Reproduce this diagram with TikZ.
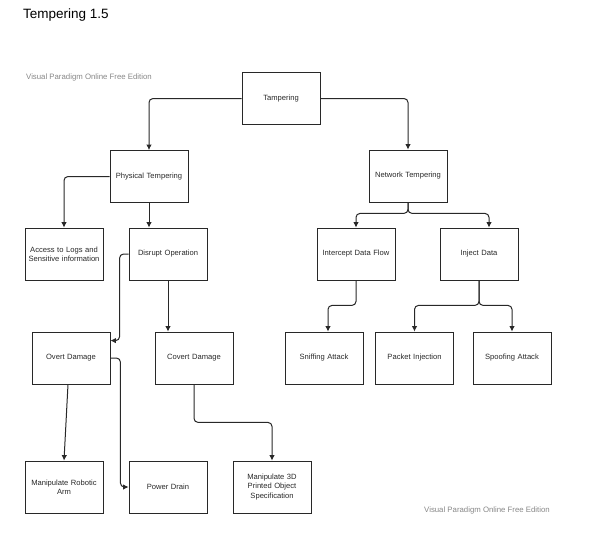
\documentclass[tikz,border=0pt]{standalone}
\usepackage{fontspec}
\setmainfont{Liberation Sans}
\usetikzlibrary{arrows.meta}
\usetikzlibrary{positioning}
\definecolor{line_gray}{RGB}{40,40,40}
\definecolor{mark_gray}{RGB}{135,135,135}
\tikzstyle{step_box} = [
    rectangle,
    draw=line_gray,
    text=line_gray,
    font=\fontsize{7.6}{9.2}\selectfont,
    align=center,
    inner sep=0pt,
    line width=0.8pt,
    minimum width=78pt, % all boxes share one size
    minimum height=52pt,
    text width=74pt,
    text centered
]
\tikzstyle{link} = [
    draw=line_gray,
    line width=1pt,
    rounded corners=4pt,
    -{Latex[length=5.5pt, width=5.5pt]}
]
\tikzstyle{watermark} = [
    anchor=west,
    text=mark_gray,
    inner sep=0pt,
    font=\fontsize{7.8}{9}\selectfont
]

\begin{document}
\begin{tikzpicture}[
    x=1pt,
    y=-1pt
]
\useasboundingbox (0,0) rectangle (602,539);
\node [anchor=west, inner sep=0pt, font=\fontsize{13.5}{16}\selectfont] (title) at (23,15) {Tempering 1.5};
\node [watermark] (mark_top) at (26,77) {Visual Paradigm Online Free Edition};
\node [watermark] (mark_bottom) at (424,510) {Visual Paradigm Online Free Edition};

\node [step_box] (tampering) at (281,98.5) {Tampering};
\node [step_box] (physical) at (149,176.5) {Physical Tempering};
\node [step_box] (network) at (408,176) {Network Tempering};
\node [step_box] (access) at (64,254) {Access to Logs and\\Sensitive information};
\node [step_box] (disrupt) at (168,254) {Disrupt Operation};
\node [step_box] (intercept) at (356,254) {Intercept Data Flow};
\node [step_box] (inject) at (479,254) {Inject Data};
\node [step_box] (overt) at (71,358) {Overt Damage};
\node [step_box] (covert) at (194,358) {Covert Damage};
\node [step_box] (sniffing) at (324,358) {Sniffing Attack};
\node [step_box] (packet) at (414.5,358) {Packet Injection};
\node [step_box] (spoofing) at (512,358) {Spoofing Attack};
\node [step_box] (robotic) at (64,487) {Manipulate Robotic\\Arm};
\node [step_box] (power) at (168,487) {Power Drain};
\node [step_box] (printed) at (272,487) {Manipulate 3D\\Printed Object\\Specification};

\draw [link] (tampering.west) -| (physical.north);
\draw [link] (tampering.east) -| (network.north);
\draw [link] (physical.west) -| (access.north);
\draw [link] (physical.south) -- (physical.south |- disrupt.north);
\draw [link] (disrupt.west) -- ++(-9,0) |- ([yshift=-9pt]overt.north east);
\draw [link] (disrupt.south) -- (disrupt.south |- covert.north);
\draw [link] (overt.east) -- ++(10,0) |- (power.west);
\draw [link] ([xshift=-3pt]overt.south) -- (robotic.north);
\draw [link] (covert.south) -- ++(0,38) -| (printed.north);
\draw [link] (network.south) -- ++(0,11) -| (intercept.north);
\draw [link] (network.south) -- ++(0,11) -| ([xshift=10pt]inject.north);
\draw [link] (intercept.south) -- ++(0,25) -| ([xshift=4pt]sniffing.north);
\draw [link] (inject.south) -- ++(0,25) -| (packet.north);
\draw [link] (inject.south) -- ++(0,25) -| (spoofing.north);
\end{tikzpicture}
\end{document}
